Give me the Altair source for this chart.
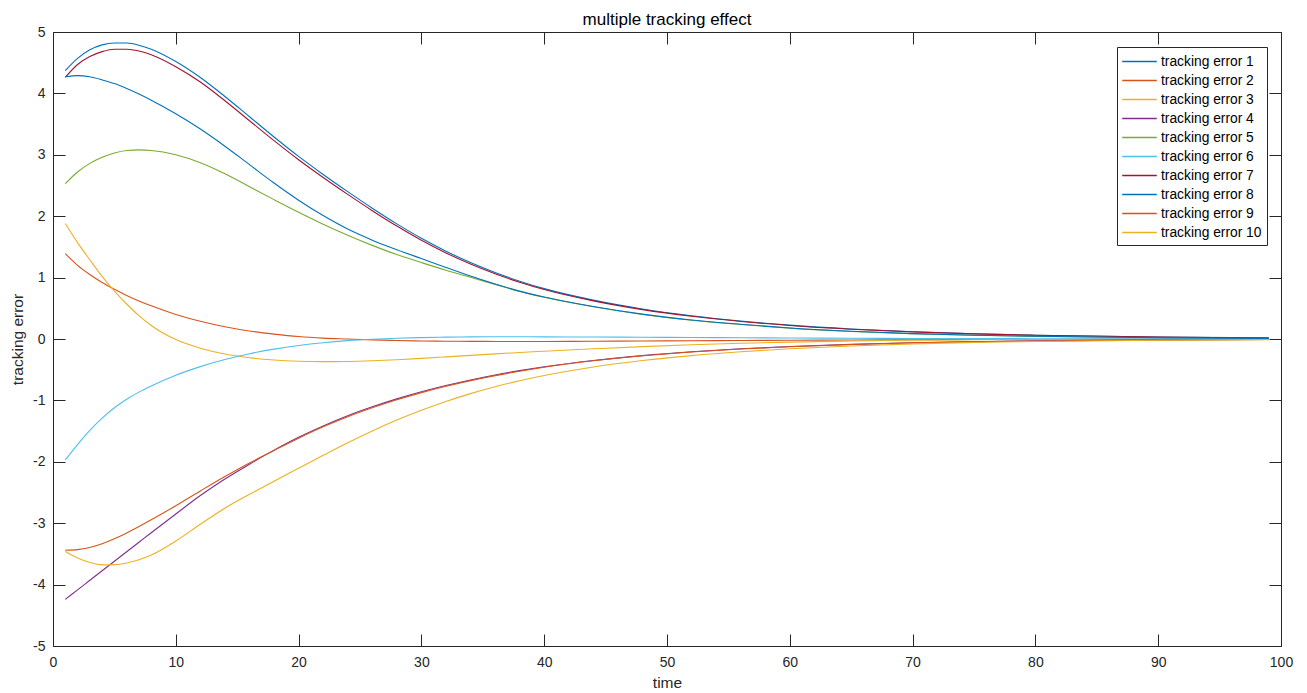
import altair as alt
import pandas as pd

TITLE = "multiple tracking effect"

# time samples (shared by all series)
T = [1, 2, 3, 4, 5, 6, 7, 8, 10, 12, 14, 16, 18, 20, 22, 24, 26, 28, 30, 32, 34, 36, 38,
     40, 44, 48, 52, 56, 60, 65, 70, 75, 80, 90, 99]

S1 = [4.37, 4.57, 4.71, 4.79, 4.82, 4.82, 4.785, 4.72, 4.52, 4.26, 3.95, 3.62, 3.29, 2.974,
      2.68, 2.40, 2.13, 1.875, 1.64, 1.43, 1.245, 1.083, 0.942, 0.82, 0.633, 0.489, 0.378,
      0.292, 0.226, 0.164, 0.119, 0.086, 0.062, 0.033, 0.018]
S2 = [1.39, 1.20, 1.05, 0.92, 0.81, 0.71, 0.62, 0.54, 0.40, 0.29, 0.20, 0.13, 0.08, 0.04,
      0.015, 0.00, -0.015, -0.025, -0.032, -0.036, -0.038, -0.04, -0.04, -0.04, -0.037,
      -0.033, -0.029, -0.025, -0.021, -0.016, -0.012, -0.009, -0.007, -0.004, -0.002]
S3 = [1.88, 1.57, 1.29, 1.02, 0.78, 0.57, 0.38, 0.22, -0.01, -0.15, -0.245, -0.305, -0.342,
      -0.362, -0.369, -0.366, -0.355, -0.337, -0.315, -0.291, -0.267, -0.243, -0.22, -0.199,
      -0.16, -0.124, -0.094, -0.07, -0.051, -0.033, -0.021, -0.013, -0.008, -0.003, -0.001]
S4 = [-4.24, -4.085, -3.93, -3.775, -3.62, -3.465, -3.31, -3.155, -2.85, -2.55, -2.28, -2.04,
      -1.81, -1.60, -1.415, -1.25, -1.105, -0.975, -0.86, -0.758, -0.667, -0.586, -0.515,
      -0.453, -0.35, -0.27, -0.208, -0.16, -0.123, -0.088, -0.062, -0.044, -0.031, -0.015,
      -0.008]
S5 = [2.53, 2.72, 2.86, 2.96, 3.03, 3.07, 3.08, 3.07, 3.00, 2.87, 2.69, 2.48, 2.27, 2.065,
      1.87, 1.69, 1.525, 1.375, 1.245, 1.12, 1.005, 0.89, 0.775, 0.68, 0.525, 0.40, 0.305,
      0.236, 0.177, 0.123, 0.087, 0.061, 0.043, 0.021, 0.01]
S6 = [-1.97, -1.72, -1.49, -1.29, -1.12, -0.98, -0.865, -0.765, -0.59, -0.45, -0.335, -0.24,
      -0.165, -0.105, -0.06, -0.027, -0.004, 0.012, 0.023, 0.03, 0.034, 0.036, 0.036, 0.035,
      0.032, 0.028, 0.024, 0.02, 0.016, 0.012, 0.009, 0.007, 0.005, 0.003, 0.001]
S7 = [4.26, 4.47, 4.60, 4.68, 4.72, 4.72, 4.69, 4.63, 4.435, 4.185, 3.88, 3.555, 3.23, 2.919,
      2.63, 2.355, 2.09, 1.839, 1.608, 1.402, 1.221, 1.063, 0.925, 0.805, 0.621, 0.479, 0.37,
      0.286, 0.221, 0.16, 0.116, 0.084, 0.06, 0.032, 0.017]
S8 = [4.27, 4.29, 4.27, 4.22, 4.16, 4.08, 3.99, 3.89, 3.67, 3.42, 3.14, 2.84, 2.54, 2.26,
      2.01, 1.79, 1.61, 1.455, 1.31, 1.165, 1.025, 0.895, 0.78, 0.685, 0.53, 0.405, 0.31,
      0.24, 0.18, 0.125, 0.088, 0.062, 0.044, 0.021, 0.01]
S9 = [-3.44, -3.43, -3.395, -3.335, -3.255, -3.16, -3.055, -2.945, -2.715, -2.475, -2.24,
      -2.018, -1.815, -1.615, -1.43, -1.265, -1.12, -0.99, -0.873, -0.77, -0.678, -0.596,
      -0.524, -0.46, -0.355, -0.274, -0.211, -0.162, -0.125, -0.089, -0.063, -0.045, -0.032,
      -0.015, -0.008]
S10 = [-3.46, -3.565, -3.64, -3.678, -3.675, -3.648, -3.596, -3.519, -3.29, -3.016, -2.755,
       -2.53, -2.315, -2.105, -1.895, -1.69, -1.497, -1.32, -1.16, -1.017, -0.89, -0.778,
       -0.68, -0.595, -0.455, -0.35, -0.27, -0.208, -0.16, -0.113, -0.08, -0.057, -0.04,
       -0.02, -0.01]

SERIES = [S1, S2, S3, S4, S5, S6, S7, S8, S9, S10]
NAMES = ["tracking error %d" % i for i in range(1, 11)]
COLORS = ["#0072BD", "#D95319", "#EDB120", "#7E2F8E", "#77AC30",
          "#4DBEEE", "#A2142F", "#0072BD", "#D95319", "#EDB120"]
XTICKS = [0, 10, 20, 30, 40, 50, 60, 70, 80, 90, 100]
YTICKS = [-5, -4, -3, -2, -1, 0, 1, 2, 3, 4, 5]

rows = []
for name, ser in zip(NAMES, SERIES):
    for t, v in zip(T, ser):
        rows.append({"time": t, "value": v, "series": name})
df = pd.DataFrame(rows)

W, H = 1228, 614
FONT = "Liberation Sans"
AX = "#262626"
xscale = alt.Scale(domain=[0, 100], nice=False, zero=False)
yscale = alt.Scale(domain=[-5, 5], nice=False, zero=False)

base = alt.Chart(df)

main = base.mark_line(strokeWidth=1.1, interpolate="monotone").encode(
    x=alt.X("time:Q", scale=xscale,
            axis=alt.Axis(orient="bottom", values=XTICKS, ticks=False, tickSize=0,
                          labelPadding=9, labelFlush=False, title="time", titlePadding=6,
                          domain=True, domainColor=AX, labelExpr="'' + datum.value")),
    y=alt.Y("value:Q", scale=yscale,
            axis=alt.Axis(orient="left", values=YTICKS, ticks=False, tickSize=0,
                          labelPadding=8, labelFlush=False, title="tracking error",
                          titlePadding=7, domain=True, domainColor=AX,
                          labelExpr="'' + datum.value")),
    color=alt.Color("series:N", sort=NAMES,
                    scale=alt.Scale(domain=NAMES, range=COLORS),
                    legend=alt.Legend(title=None, orient="none", legendX=1064, legendY=15,
                                      symbolType="M-2.035,0H2.035", symbolSize=289,
                                      symbolStrokeWidth=1.5, symbolOffset=8,
                                      labelOffset=12, labelFontSize=13.8, labelFont=FONT,
                                      labelColor="black", strokeColor=AX, fillColor="white",
                                      padding=5, rowPadding=2, labelLimit=300)),
)

# inward ticks on bottom and left
ticks_in = base.mark_point(opacity=0).encode(
    x=alt.X("time:Q", scale=xscale,
            axis=alt.Axis(orient="top", offset=-H, values=XTICKS, labels=False,
                          domain=False, ticks=True, tickSize=12, tickColor=AX, title=None)),
    y=alt.Y("value:Q", scale=yscale,
            axis=alt.Axis(orient="right", offset=-W, values=YTICKS, labels=False,
                          domain=False, ticks=True, tickSize=12, tickColor=AX, title=None)),
)

# box (top / right) with inward ticks
ticks_box = base.mark_point(opacity=0).encode(
    x=alt.X("time:Q", scale=xscale,
            axis=alt.Axis(orient="bottom", offset=-H, values=XTICKS, labels=False,
                          domain=True, domainColor=AX, ticks=True, tickSize=12,
                          tickColor=AX, title=None)),
    y=alt.Y("value:Q", scale=yscale,
            axis=alt.Axis(orient="left", offset=-W, values=YTICKS, labels=False,
                          domain=True, domainColor=AX, ticks=True, tickSize=12,
                          tickColor=AX, title=None)),
)

title = alt.Chart(pd.DataFrame({"t": [TITLE]})).mark_text(
    font=FONT, fontSize=17, color="black", align="center", baseline="alphabetic"
).encode(x=alt.value(W / 2), y=alt.value(-7), text="t:N")

chart = alt.layer(main, ticks_in, ticks_box, title).resolve_axis(
    x="independent", y="independent"
).properties(
    width=W, height=H,
    autosize=alt.AutoSizeParams(type="none"),
    padding={"left": 45, "top": 24, "right": 16, "bottom": 46},
).configure_view(stroke=None).configure_axis(
    grid=False, labelFont=FONT, titleFont=FONT, labelFontSize=14, titleFontSize=15.5,
    labelColor=AX, titleColor=AX, titleFontWeight="normal", domainWidth=1, tickWidth=1,
)

chart.save("out.html", embed_options={"renderer": "svg", "actions": False})
